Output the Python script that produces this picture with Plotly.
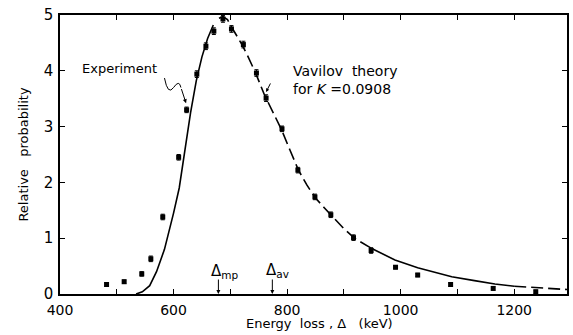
import plotly.graph_objects as go

# Experimental points (energy loss keV, relative probability)
exp_x = [482, 513, 544, 560, 581, 609, 623, 641, 657, 671, 687, 702, 723, 746, 763,
         791, 819, 849, 877, 917, 948, 991, 1030, 1088, 1163, 1238]
exp_y = [0.17, 0.22, 0.36, 0.63, 1.38, 2.45, 3.30, 3.94, 4.44, 4.71, 4.93, 4.75, 4.47, 3.96, 3.51,
         2.96, 2.22, 1.74, 1.42, 1.01, 0.78, 0.48, 0.34, 0.17, 0.10, 0.04]
exp_err = [0.03, 0.03, 0.04, 0.05, 0.05, 0.05, 0.05, 0.06, 0.06, 0.06, 0.06, 0.06, 0.06, 0.06, 0.06,
           0.05, 0.05, 0.05, 0.05, 0.05, 0.05, 0.03, 0.03, 0.03, 0.03, 0.03]

# Vavilov theory curve
th_x = [534, 545, 558, 570, 584, 590, 600, 610, 620, 630, 640, 650, 660, 670, 680, 687, 695,
        700, 710, 720, 730, 745, 760, 775, 790, 805, 820, 835, 850, 865, 880, 900, 920, 950,
        990, 1030, 1090, 1130, 1166, 1200, 1250, 1293]
th_y = [0.0, 0.04, 0.15, 0.40, 0.80, 1.03, 1.45, 1.90, 2.60, 3.25, 3.82, 4.25, 4.58, 4.82, 4.94, 4.97, 4.92,
        4.82, 4.65, 4.48, 4.28, 3.95, 3.57, 3.25, 2.95, 2.58, 2.22, 1.95, 1.72, 1.55, 1.38, 1.17, 0.99, 0.81,
        0.61, 0.47, 0.31, 0.24, 0.18, 0.14, 0.11, 0.08]

# breakpoints where the curve changes between solid and dashed
breaks = [534, 678, 950, 1200, 1293]
seg_dash = ["solid", "dash", "solid", "dash"]

x_ticks = [400, 500, 600, 700, 800, 900, 1000, 1100, 1200]
x_ticktext = ["400", "", "600", "", "800", "", "1000", "", "1200"]
y_ticks = [0, 1, 2, 3, 4, 5]

mp_x = 679
av_x = 774

FONT = "DejaVu Sans"
MARGIN_B = 41
PLOT_H = 335 - 15 - MARGIN_B

fig = go.Figure()

for i, d in enumerate(seg_dash):
    lo, hi = breaks[i], breaks[i + 1]
    xs = [x for x in th_x if lo <= x <= hi]
    ys = [y for x, y in zip(th_x, th_y) if lo <= x <= hi]
    fig.add_trace(go.Scatter(x=xs, y=ys, mode="lines",
                             line=dict(color="black", width=1.6, dash="12px,5px" if d == "dash" else "solid"),
                             hoverinfo="skip", showlegend=False))

fig.add_trace(go.Scatter(x=exp_x, y=exp_y, mode="markers",
                         marker=dict(symbol="square", size=5, color="black"),
                         error_y=dict(type="data", array=exp_err, color="black", thickness=1, width=2),
                         showlegend=False))

arrow = dict(showarrow=True, arrowcolor="black", arrowwidth=1, arrowhead=2, text="")
annotations = [
    dict(arrow, x=622, y=3.42, ax=613, ay=3.70, xref="x", yref="y", axref="x", ayref="y", arrowsize=0.8),
    dict(x=0.04, y=0.81, xref="x domain", yref="y domain", xanchor="left", yanchor="middle",
         text="Experiment", showarrow=False, font=dict(family=FONT, size=13, color="black")),
    dict(x=0.455, y=0.768, xref="x domain", yref="y domain", xanchor="left", yanchor="middle",
         text="Vavilov  theory<br>for <i>K</i> =0.0908", align="left", showarrow=False,
         font=dict(family=FONT, size=14, color="black")),
    dict(arrow, x=763, y=3.62, ax=772, ay=3.80, xref="x", yref="y", axref="x", ayref="y", arrowsize=0.7),
    dict(arrow, x=mp_x, y=0, ax=0, ay=-16, xref="x", yref="y", arrowsize=0.8),
    dict(arrow, x=av_x, y=0, ax=0, ay=-16, xref="x", yref="y", arrowsize=0.8),
    dict(x=mp_x - 16, y=0.40, xref="x", yref="y", xanchor="left", yanchor="middle",
         text="Δ<sub>mp</sub>", showarrow=False, font=dict(family=FONT, size=15, color="black")),
    dict(x=av_x - 14, y=0.42, xref="x", yref="y", xanchor="left", yanchor="middle",
         text="Δ<sub>av</sub>", showarrow=False, font=dict(family=FONT, size=15, color="black")),
    dict(x=0.5, y=-MARGIN_B / PLOT_H, xref="paper", yref="paper", xanchor="center", yanchor="bottom",
         text="Energy  loss , Δ   (keV)", showarrow=False, yshift=2, xshift=6,
         font=dict(family=FONT, size=13, color="black")),
]

fig.update_layout(
    width=573, height=335,
    margin=dict(l=60, r=4, t=15, b=MARGIN_B),
    paper_bgcolor="white", plot_bgcolor="white",
    font=dict(family=FONT, color="black"),
    annotations=annotations,
    shapes=[dict(type="path", xref="x", yref="y",
                 path="M 584,3.87 Q 590,3.55 600,3.70 Q 610,3.85 613,3.70",
                 line=dict(color="black", width=1))],
)

fig.update_xaxes(range=[400, 1293], tickvals=x_ticks, ticktext=x_ticktext,
                 ticks="inside", ticklen=5, tickcolor="black", tickwidth=1,
                 showline=True, linecolor="black", linewidth=1.5, mirror="ticks",
                 showgrid=False, zeroline=False, ticklabelstandoff=2,
                 tickfont=dict(family=FONT, size=14, color="black"))
fig.update_yaxes(range=[0, 5], tickvals=y_ticks,
                 ticks="inside", ticklen=5, tickcolor="black", tickwidth=1,
                 showline=True, linecolor="black", linewidth=1.5, mirror="ticks",
                 showgrid=False, zeroline=False, ticklabelstandoff=2,
                 tickfont=dict(family=FONT, size=15, color="black"),
                 title=dict(text="Relative   probability", standoff=12,
                            font=dict(family=FONT, size=13, color="black")))

fig.write_html("out.html")
